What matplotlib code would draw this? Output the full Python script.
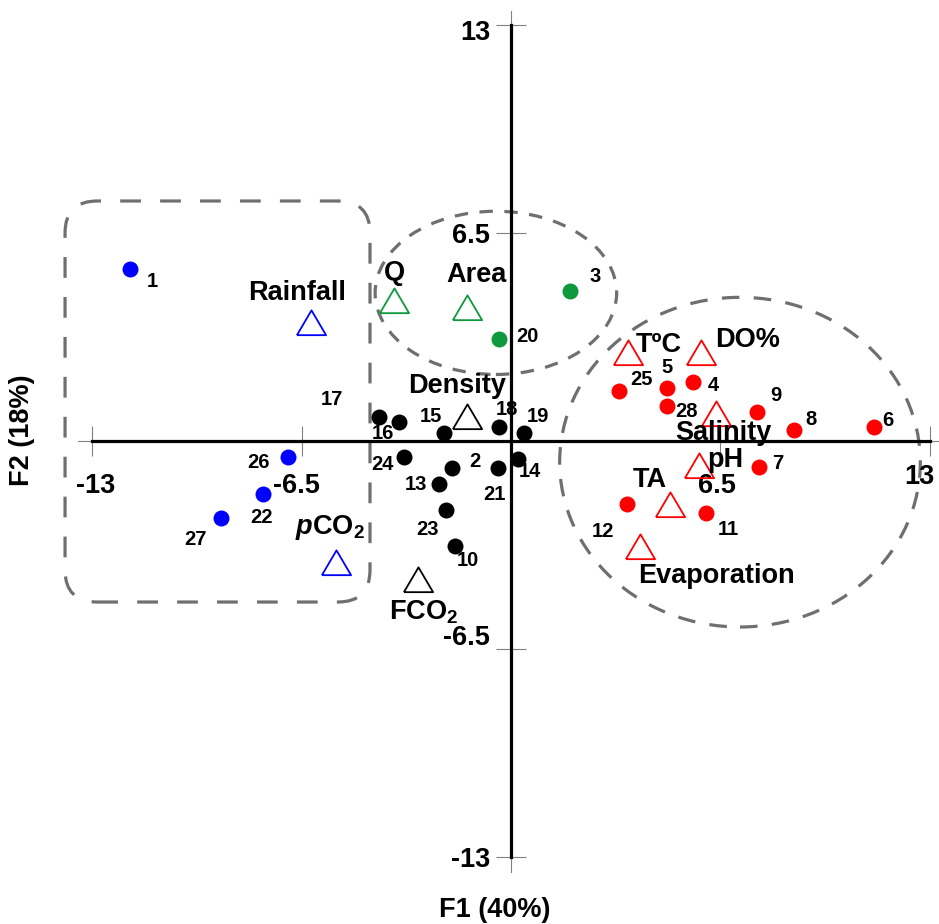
import matplotlib
matplotlib.use("Agg")
import matplotlib.pyplot as plt
from matplotlib.patches import Ellipse, FancyBboxPatch

plt.rcParams['font.family'] = ['Liberation Sans', 'DejaVu Sans']
plt.rcParams['font.weight'] = 'bold'
plt.rcParams['mathtext.fontset'] = 'custom'
plt.rcParams['mathtext.rm'] = 'Liberation Sans:bold'
plt.rcParams['mathtext.it'] = 'Liberation Sans:italic:bold'
plt.rcParams['mathtext.bf'] = 'Liberation Sans:bold'

# sample scores (F1, F2)
sample_ids = ['1', '26', '22', '27',
              '3', '20',
              '17', '16', '15', '18', '19', '24', '2', '13', '23', '10', '21', '14',
              '25', '5', '4', '28', '9', '8', '6', '7', '12', '11']
sample_f1 = [-11.83, -6.93, -7.69, -9.02,
             1.83, -0.36,
             -4.09, -3.48, -2.07, -0.36, 0.40, -3.31, -1.82, -2.24, -2.03, -1.74, -0.41, 0.23,
             3.36, 4.83, 5.64, 4.83, 7.63, 8.80, 11.28, 7.70, 3.61, 6.05]
sample_f2 = [5.37, -0.49, -1.67, -2.39,
             4.69, 3.18,
             0.76, 0.58, 0.24, 0.43, 0.26, -0.51, -0.83, -1.35, -2.16, -3.27, -0.83, -0.57,
             1.57, 1.65, 1.83, 1.10, 0.90, 0.34, 0.45, -0.82, -1.97, -2.26]
sample_group = ['b'] * 4 + ['g'] * 2 + ['k'] * 12 + ['r'] * 10

# variable loadings (F1, F2)
var_names = ['Rainfall', r'$\it{p}$CO$_2$', 'Q', 'Area', 'Density', r'FCO$_2$',
             'TºC', 'DO%', 'Salinity', 'pH', 'TA', 'Evaporation']
var_f1 = [-6.21, -5.44, -3.62, -1.38, -1.38, -2.90, 3.62, 5.90, 6.37, 5.84, 4.94, 4.00]
var_f2 = [3.69, -3.82, 4.38, 4.15, 0.74, -4.34, 2.76, 2.76, 0.83, -0.78, -2.00, -3.32]
var_group = ['b', 'b', 'g', 'g', 'k', 'k', 'r', 'r', 'r', 'r', 'r', 'r']

ticks = [-13, -6.5, 6.5, 13]
tick_text = ['-13', '-6.5', '6.5', '13']

colors = {'b': '#0000ff', 'g': '#0e9a3c', 'k': '#000000', 'r': '#ff0000'}

# label offsets in pixels (dx right, dy down)
sample_off = {'1': (22, 12), '26': (-29, 6), '22': (-2, 23), '27': (-25, 22),
              '3': (25, -14), '20': (28, -3),
              '17': (-47, -17), '16': (-16, 11), '15': (-13, -17), '18': (7, -18),
              '19': (14, -16), '24': (-22, 7), '2': (22, -6), '13': (-23, 0),
              '23': (-18, 19), '10': (13, 15), '21': (-3, 27), '14': (11, 12),
              '25': (22, -11), '5': (0, -21), '4': (21, 3), '28': (20, 6),
              '9': (19, -17), '8': (17, -11), '6': (14, -6), '7': (19, -4),
              '12': (-24, 27), '11': (22, 16)}
var_off = [(-14, -30), (-6, -36), (0, -28), (10, -33), (-9, -31), (6, 32),
           (31, -8), (47, -13), (7, 19), (26, -6), (-20, -25), (77, 29)]
xtick_off = [(3, 45), (-5, 45), (-3, 45), (-10, 36)]
ytick_off = [(-21, 3), (-21, -11), (-21, 3), (-21, 8)]

# open triangle, a bit wider than tall
tri = [(-1, -0.8), (1, -0.8), (0, 0.9), (-1, -0.8)]

fig = plt.figure(figsize=(9.39, 9.24), dpi=100)
ax = fig.add_axes([0, 0, 1, 1])
ax.set_xlim(-15.87, 13.29)
ax.set_ylim(-15.09, 13.78)

for s in ['top', 'right']:
    ax.spines[s].set_visible(False)
for s in ['left', 'bottom']:
    ax.spines[s].set_position(('data', 0))
    ax.spines[s].set_bounds(-13, 13)
    ax.spines[s].set_linewidth(2.3)
    ax.spines[s].set_zorder(2)

# thin extension past the end ticks
ax.plot([-13.45, 13.45], [0, 0], color='#808080', lw=0.8, zorder=1)
ax.plot([0, 0], [-13.45, 13.45], color='#808080', lw=0.8, zorder=1)

ax.set_xticks(ticks)
ax.set_yticks(ticks)
ax.tick_params(direction='inout', length=21.6, width=0.8, color='#808080',
               labelbottom=False, labelleft=False)

for t, s, xo, yo in zip(ticks, tick_text, xtick_off, ytick_off):
    ax.annotate(s, (t, 0), xytext=(xo[0], -xo[1]), textcoords='offset pixels',
                ha='center', va='center', fontsize=19.5, fontweight='bold')
    ax.annotate(s, (0, t), xytext=(yo[0], -yo[1]), textcoords='offset pixels',
                ha='right', va='center', fontsize=19.5, fontweight='bold')

# group outlines
box = FancyBboxPatch((-13.85, -5.03), 9.47, 12.53,
                     boxstyle='round,pad=0,rounding_size=1.0',
                     fill=False, ec='#6f6f6f', lw=2.3, ls=(0, (6.5, 6.0)), zorder=1)
ax.add_patch(box)
ax.add_patch(Ellipse((-0.47, 4.63), 7.5, 5.1, fill=False, ec='#6f6f6f',
                     lw=2.3, ls=(0, (4.2, 3.6)), zorder=1))
ax.add_patch(Ellipse((7.11, -0.66), 11.2, 10.3, fill=False, ec='#6f6f6f',
                     lw=2.3, ls=(0, (5.5, 4.5)), zorder=1))

for sid, x, y, g in zip(sample_ids, sample_f1, sample_f2, sample_group):
    ax.plot(x, y, 'o', ms=11.5, color=colors[g], mec='none', zorder=4)
    ax.annotate(sid, (x, y), xytext=(sample_off[sid][0], -sample_off[sid][1]),
                textcoords='offset pixels', ha='center', va='center',
                fontsize=14.5, fontweight='bold', zorder=5)

for name, x, y, g, off in zip(var_names, var_f1, var_f2, var_group, var_off):
    ax.plot(x, y, marker=tri, ms=21, mfc='none', mec=colors[g], mew=1.3,
            ls='none', zorder=4)
    ax.annotate(name, (x, y), xytext=(off[0], -off[1]), textcoords='offset pixels',
                ha='center', va='center', fontsize=19.5, fontweight='bold', zorder=5)

fig.text(495 / 939, 1 - 910 / 924, 'F1 (40%)', ha='center', va='center',
         fontsize=19.5, fontweight='bold')
fig.text(22 / 939, 1 - 430 / 924, 'F2 (18%)', ha='center', va='center',
         fontsize=19.5, fontweight='bold', rotation=90)

fig.savefig('out.png', dpi=100)
